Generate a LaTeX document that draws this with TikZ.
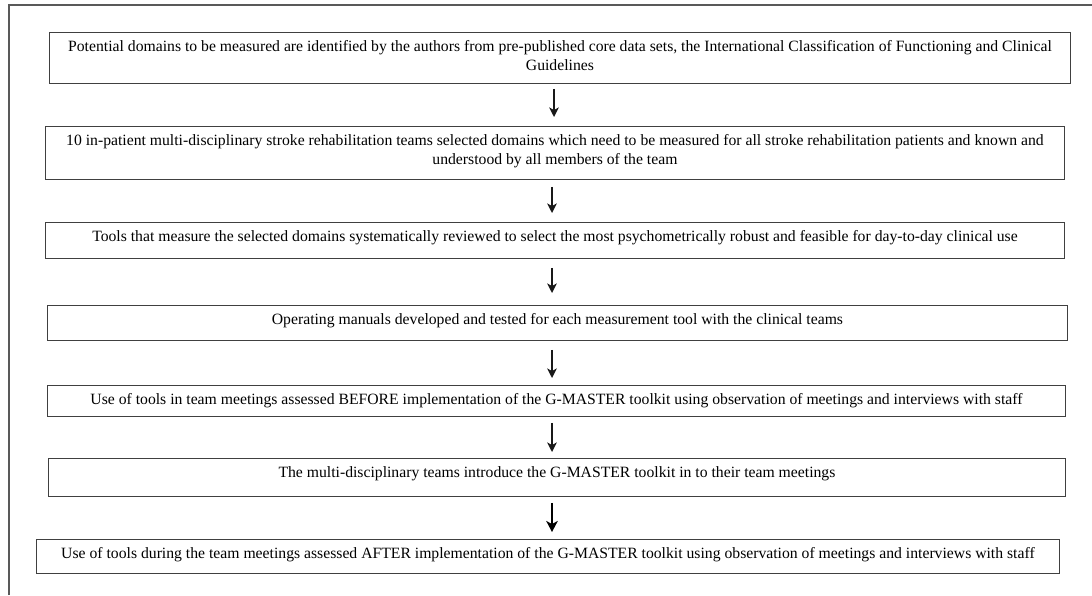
\documentclass[tikz,border=0pt]{standalone}
\usepackage{fontspec}
\setmainfont{Liberation Serif}
\usetikzlibrary{arrows.meta,calc}
\newcommand{\bxt}[3]{\parbox[c][#1pt][t]{#2pt}{\centering\fontsize{15.7}{19}\selectfont\rule{0pt}{19.5pt}#3\par}}
\begin{document}
\begin{tikzpicture}[x=1pt,y=-1pt,
  flow/.style={draw=black!75, line width=0.9pt, inner sep=0pt, anchor=north west, fill=white},
  arr/.style={draw=black!90, line width=1.9pt, -{Stealth[length=9.5pt,width=9.5pt,inset=2.5pt]}},
  boldarr/.style={draw=black, line width=2.6pt, -{Stealth[length=11pt,width=11.5pt,inset=3pt]}}
]
\useasboundingbox (0,0) rectangle (1092,595);
\fill[white] (0,0) rectangle (1092,595);
\draw[black!65, line width=1.6pt] (9,595) -- (9,5) -- (1092,5);

\node[flow] (b1) at (49,32) {\bxt{51}{1021}{Potential domains to be measured are identified by the authors from pre-published core data sets, the International Classification of Functioning and Clinical\\ Guidelines}};
\node[flow] (b2) at (45,126) {\bxt{53}{1019}{10 in-patient multi-disciplinary stroke rehabilitation teams selected domains which need to be measured for all stroke rehabilitation patients and known and\\ understood by all members of the team}};
\node[flow] (b3) at (45,222) {\bxt{36}{1019}{Tools that measure the selected domains systematically reviewed to select the most psychometrically robust and feasible for day-to-day clinical use}};
\node[flow] (b4) at (47,305) {\bxt{35}{1020}{Operating manuals developed and tested for each measurement tool with the clinical teams}};
\node[flow] (b5) at (47,385) {\bxt{31}{1018}{Use of tools in team meetings assessed BEFORE implementation of the G-MASTER toolkit using observation of meetings and interviews with staff}};
\node[flow] (b6) at (48,458) {\bxt{38}{1017}{The multi-disciplinary teams introduce the G-MASTER toolkit in to their team meetings}};
\node[flow] (b7) at (36,539) {\bxt{34}{1023}{Use of tools during the team meetings assessed AFTER implementation of the G-MASTER toolkit using observation of meetings and interviews with staff}};

\coordinate (ax1) at (554,0);
\coordinate (ax) at (552,0);
\draw[arr, shorten <=5pt, shorten >=9pt] (b1.south -| ax1) -- (b2.north -| ax1);
\draw[arr, shorten <=7pt, shorten >=9pt] (b2.south -| ax) -- (b3.north -| ax);
\draw[arr, shorten <=9pt, shorten >=12pt] (b3.south -| ax) -- (b4.north -| ax);
\draw[arr, shorten <=9pt, shorten >=7pt] (b4.south -| ax) -- (b5.north -| ax);
\draw[arr, shorten <=6pt, shorten >=6pt] (b5.south -| ax) -- (b6.north -| ax);
\draw[boldarr, shorten <=6pt, shorten >=7pt] (b6.south -| ax) -- (b7.north -| ax);
\end{tikzpicture}
\end{document}
